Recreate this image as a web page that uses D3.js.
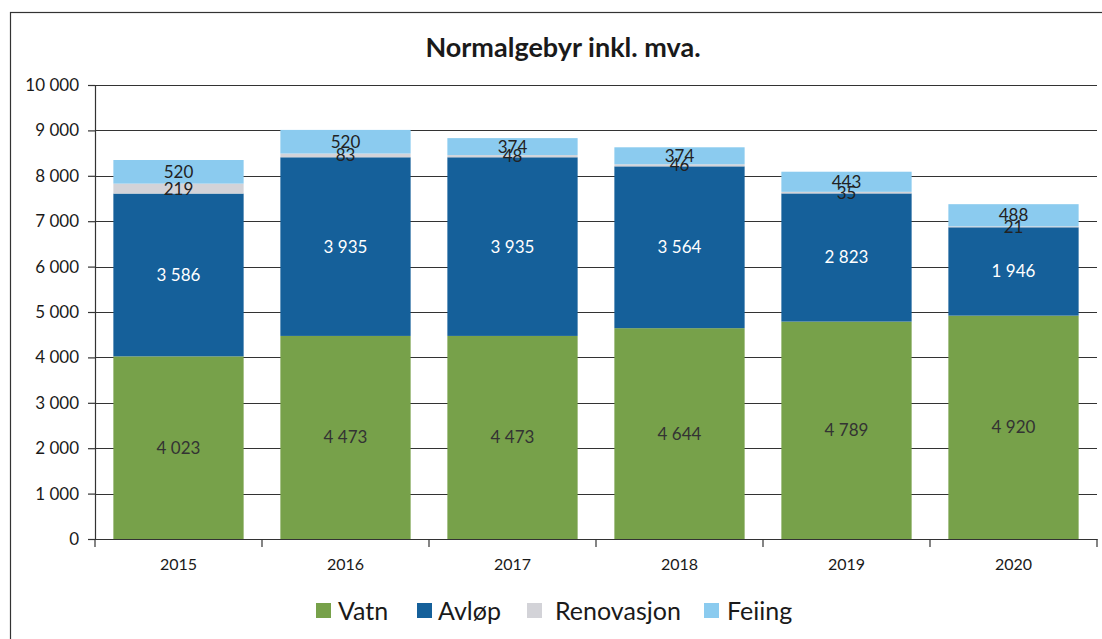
<!DOCTYPE html>
<html>
<head>
<meta charset="utf-8">
<script src="https://cdn.jsdelivr.net/npm/d3@7"></script>
<style>
  body { margin: 0; background: #fff; }
  svg { display: block; font-family: Lato, "Open Sans", sans-serif; }
</style>
</head>
<body>
<div id="chart"></div>
<script>
const years = ['2015', '2016', '2017', '2018', '2019', '2020']
const vatn = [4023, 4473, 4473, 4644, 4789, 4920]
const avlop = [3586, 3935, 3935, 3564, 2823, 1946]
const renovasjon = [219, 83, 48, 46, 35, 21]
const feiing = [520, 520, 374, 374, 443, 488]
const seriesNames = ['Vatn', 'Avløp', 'Renovasjon', 'Feiing']
const yTicks = [0, 1000, 2000, 3000, 4000, 5000, 6000, 7000, 8000, 9000, 10000]

const colors = ['#77a14a', '#15609a', '#d3d3d8', '#8bcbef']
const labelColors = ['#333', '#fff', '#222', '#222']

const width = 1102
const height = 639
const margin = { top: 85, right: 5, bottom: 100, left: 95 }
const innerWidth = 1097 - margin.left
const innerHeight = 539 - margin.top

const table = years.map((y, i) => ({
  year: y, Vatn: vatn[i], 'Avløp': avlop[i], Renovasjon: renovasjon[i], Feiing: feiing[i]
}))
const stacked = d3.stack().keys(seriesNames)(table)

const fmt = v => d3.format(',')(v).replace(/,/g, ' ')

const svg = d3.select('#chart').append('svg')
  .attr('width', width)
  .attr('height', height)

// frame
svg.append('rect')
  .attr('x', 10.5).attr('y', 12.5)
  .attr('width', 1100).attr('height', 640)
  .attr('fill', 'none').attr('stroke', '#333').attr('stroke-width', 1.2)

svg.append('text')
  .attr('x', 563).attr('y', 57)
  .attr('text-anchor', 'middle')
  .style('font-size', '27px').style('font-weight', 'bold').style('fill', '#1a1a1a')
  .text('Normalgebyr inkl. mva.')

const g = svg.append('g').attr('transform', 'translate(' + margin.left + ',' + margin.top + ')')

const x = d3.scaleBand().domain(years).range([0, innerWidth]).paddingInner(0.22).paddingOuter(0.11)
const y = d3.scaleLinear().domain([0, 10000]).range([innerHeight, 0])

// gridlines
g.selectAll('.grid').data(yTicks.filter(t => t > 0)).enter().append('line')
  .attr('x1', 0).attr('x2', innerWidth)
  .attr('y1', d => Math.round(y(d)) + 0.5).attr('y2', d => Math.round(y(d)) + 0.5)
  .attr('stroke', '#333').attr('stroke-width', 1.2)

// bars
const layer = g.selectAll('.layer').data(stacked).enter().append('g')
  .attr('fill', (d, i) => colors[i])
layer.selectAll('rect').data(d => d).enter().append('rect')
  .attr('x', d => x(d.data.year))
  .attr('y', d => y(d[1]))
  .attr('width', x.bandwidth())
  .attr('height', d => y(d[0]) - y(d[1]))

// labels
stacked.forEach((s, si) => {
  g.selectAll('.lbl' + si).data(s).enter().append('text')
    .attr('x', d => x(d.data.year) + x.bandwidth() / 2)
    .attr('y', d => (y(d[0]) + y(d[1])) / 2)
    .attr('dy', '0.35em')
    .attr('text-anchor', 'middle')
    .style('font-size', '17px')
    .style('fill', labelColors[si])
    .text(d => fmt(d[1] - d[0]))
})

// y axis
const yAxis = g.append('g')
  .call(d3.axisLeft(y).tickValues(yTicks).tickSize(7).tickPadding(9).tickFormat(fmt))
yAxis.select('.domain').attr('stroke', '#333').attr('stroke-width', 1.2)
yAxis.selectAll('.tick line').attr('stroke', '#333').attr('stroke-width', 1.2)
yAxis.selectAll('text').style('font-size', '17px').style('fill', '#1a1a1a').style('font-family', 'Lato, sans-serif')

// x axis
const xAxis = g.append('g').attr('transform', 'translate(0,' + innerHeight + ')')
  .call(d3.axisBottom(x).tickSize(0).tickPadding(20))
xAxis.select('.domain').attr('stroke', '#333').attr('stroke-width', 1.2)
xAxis.selectAll('text').style('font-size', '16px').style('fill', '#1a1a1a').style('font-family', 'Lato, sans-serif')
const step = x.step()
xAxis.selectAll('.sep').data(d3.range(years.length + 1)).enter().append('line')
  .attr('x1', d => d * step).attr('x2', d => d * step)
  .attr('y1', 0).attr('y2', 8)
  .attr('stroke', '#333').attr('stroke-width', 1.2)

// legend
const legendX = [316, 417, 527, 704]
const legendTextX = [338, 438, 555, 727]
const legend = svg.append('g')
seriesNames.forEach((name, i) => {
  legend.append('rect')
    .attr('x', legendX[i]).attr('y', 603)
    .attr('width', 15).attr('height', 15)
    .attr('fill', colors[i])
  legend.append('text')
    .attr('x', legendTextX[i]).attr('y', 611)
    .attr('dy', '0.35em')
    .style('font-size', '25px').style('fill', '#1a1a1a')
    .text(name)
})
</script>
</body>
</html>
